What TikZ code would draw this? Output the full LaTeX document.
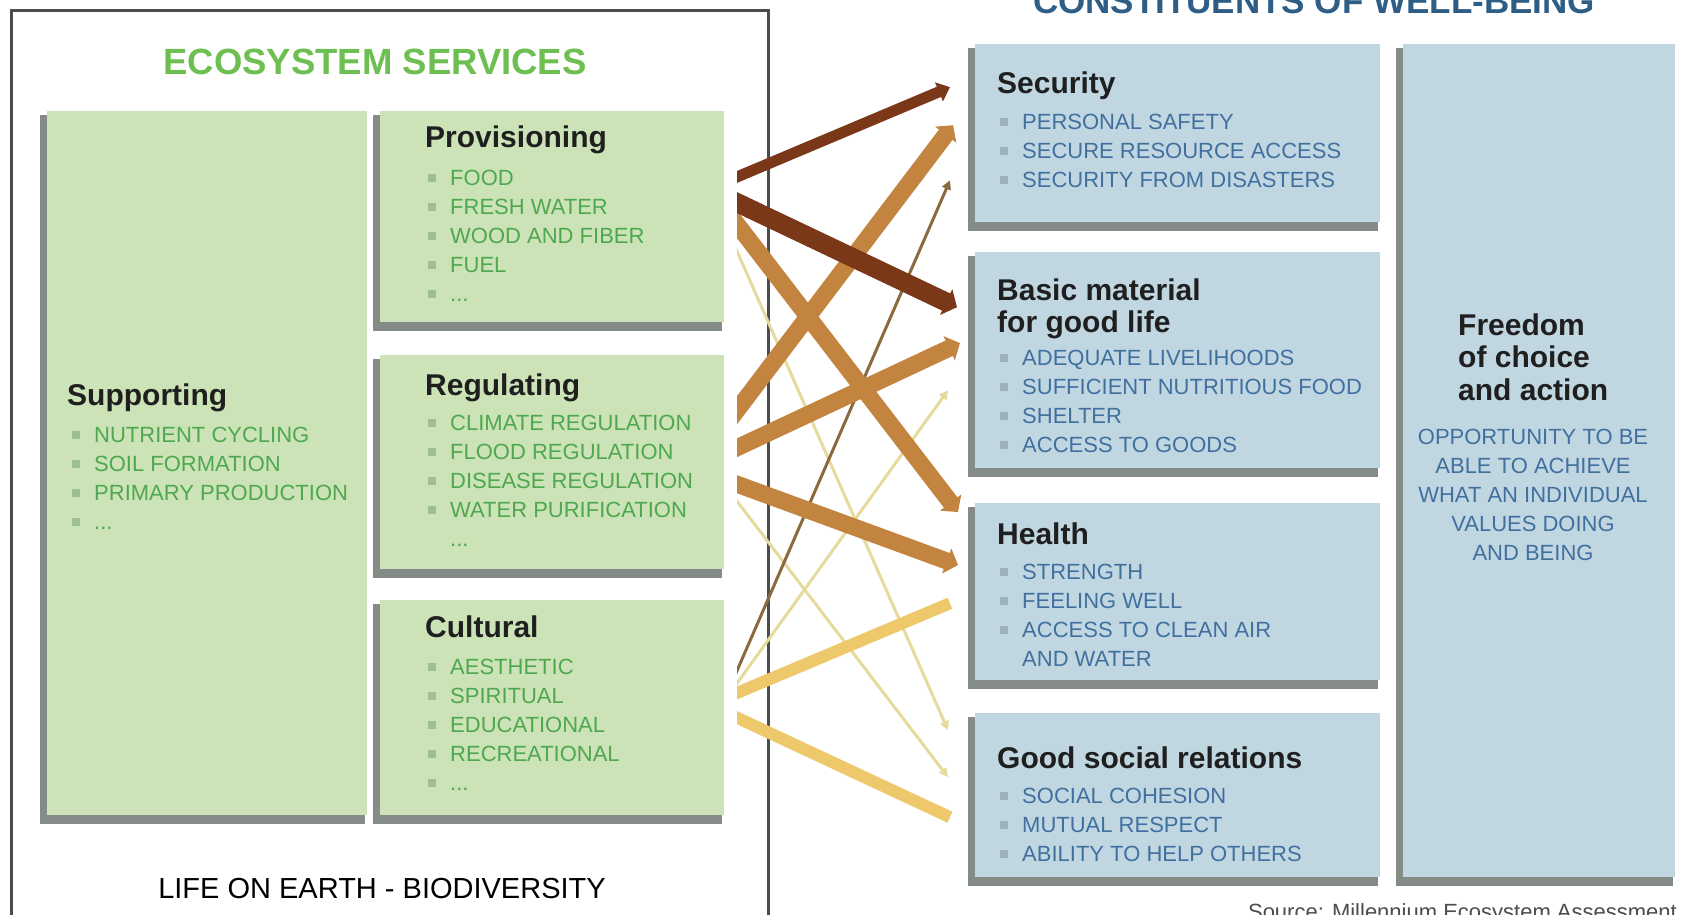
\documentclass[tikz,border=0pt]{standalone}
\usepackage{fontspec}
\setmainfont{Liberation Sans}
\usepackage{tikz}
\usetikzlibrary{positioning, arrows.meta, calc, backgrounds}
\usepackage{xcolor}

\definecolor{boxgreen}{HTML}{CBE3B7}
\definecolor{boxblue}{HTML}{C0D7E2}
\definecolor{txtgreen}{HTML}{4FA84F}
\definecolor{ttlgreen}{HTML}{6CBF50}
\definecolor{txtblue}{HTML}{41709F}
\definecolor{ttlblue}{HTML}{2E5E86}
\definecolor{bulgreen}{HTML}{9DBF92}
\definecolor{bulblue}{HTML}{9DB1BD}
\definecolor{darkbrown}{HTML}{7A3818}
\definecolor{midbrown}{HTML}{C2843F}
\definecolor{thinbrown}{HTML}{8C6A40}
\definecolor{paleyellow}{HTML}{E6DB9C}
\definecolor{warmyellow}{HTML}{EDC96C}
\definecolor{shadowgray}{HTML}{858C88}

\newcommand{\gsq}{\textcolor{bulgreen}{\rule[4pt]{8pt}{8pt}}\hspace{14pt}}
\newcommand{\bsq}{\textcolor{bulblue}{\rule[4pt]{8pt}{8pt}}\hspace{14pt}}

\begin{document}
\begin{tikzpicture}[
    x=1pt, y=-1pt,
    svcbox/.style={rectangle, fill=boxgreen, anchor=north west, inner sep=0pt},
    wellbox/.style={svcbox, fill=boxblue},
    heading/.style={anchor=base west, inner sep=0pt, text=black!88,
        font=\fontsize{30}{32.5}\selectfont\bfseries},
    svcitems/.style={anchor=north west, inner sep=0pt, align=left, text=txtgreen,
        font=\fontsize{22}{29}\selectfont},
    wellitems/.style={svcitems, text=txtblue},
    thinarrow/.style={line width=3pt, -{Triangle[length=9pt, width=9pt]}},
    widearrow/.style={line width=12pt},
    fatarrow/.style={line width=#1, -{Triangle[length=12pt, width=9pt 1]}}
]
    \path[use as bounding box, clip] (0,0) rectangle (1689,914);

    \draw[line width=3pt, draw=black!70] (11,10) rectangle (768,940);

    \node[font=\fontsize{36.5}{40}\selectfont\bfseries, text=ttlgreen, anchor=base, inner sep=0pt]
        (svctitle) at (375,74) {ECOSYSTEM SERVICES};
    \node[font=\fontsize{35}{40}\selectfont\bfseries, text=ttlblue, anchor=base, inner sep=0pt]
        (welltitle) at (1314,13) {CONSTITUENTS OF WELL-BEING};

    \node[svcbox, minimum width=320pt, minimum height=704pt] (supp) at (47,111) {};
    \node[svcbox, minimum width=344pt, minimum height=211pt] (prov) at (380,111) {};
    \node[svcbox, minimum width=344pt, minimum height=214pt] (regu) at (380,355) {};
    \node[svcbox, minimum width=344pt, minimum height=215pt] (cult) at (380,600) {};

    \node[wellbox, minimum width=405pt, minimum height=178pt] (secu) at (975,44) {};
    \node[wellbox, minimum width=405pt, minimum height=216pt] (basic) at (975,252) {};
    \node[wellbox, minimum width=405pt, minimum height=177pt] (health) at (975,503) {};
    \node[wellbox, minimum width=405pt, minimum height=164pt] (social) at (975,713) {};
    \node[wellbox, minimum width=272pt, minimum height=833pt] (freedom) at (1403,44) {};

    \begin{scope}[on background layer]
        \foreach \b in {supp,prov,regu,cult,secu,basic,health,social,freedom}
            \fill[shadowgray] ($(\b.north west)+(-7,4)$) rectangle ($(\b.south east)+(-2,9)$);
    \end{scope}

    \node[heading] (supph) at (67,405) {Supporting};
    \node[svcitems] (suppi) at (72,427)
        {\gsq NUTRIENT CYCLING\\ \gsq SOIL FORMATION\\ \gsq PRIMARY PRODUCTION\\ \gsq ...};
    \node[heading] (provh) at (425,147) {Provisioning};
    \node[svcitems] (provi) at (428,170)
        {\gsq FOOD\\ \gsq FRESH WATER\\ \gsq WOOD AND FIBER\\ \gsq FUEL\\ \gsq ...};
    \node[heading] (reguh) at (425,395) {Regulating};
    \node[svcitems] (regui) at (428,415)
        {\gsq CLIMATE REGULATION\\ \gsq FLOOD REGULATION\\ \gsq DISEASE REGULATION\\
         \gsq WATER PURIFICATION\\ \hphantom{\gsq}...};
    \node[heading] (culth) at (425,637) {Cultural};
    \node[svcitems] (culti) at (428,659)
        {\gsq AESTHETIC\\ \gsq SPIRITUAL\\ \gsq EDUCATIONAL\\ \gsq RECREATIONAL\\ \gsq ...};

    \node[heading] (secuh) at (997,93) {Security};
    \node[wellitems] (secui) at (1000,114)
        {\bsq PERSONAL SAFETY\\ \bsq SECURE RESOURCE ACCESS\\ \bsq SECURITY FROM DISASTERS};
    \node[heading, anchor=north west, align=left] (basich) at (997,278.5)
        {Basic material\\for good life};
    \node[wellitems] (basici) at (1000,350)
        {\bsq ADEQUATE LIVELIHOODS\\ \bsq SUFFICIENT NUTRITIOUS FOOD\\ \bsq SHELTER\\
         \bsq ACCESS TO GOODS};
    \node[heading] (healthh) at (997,544) {Health};
    \node[wellitems] (healthi) at (1000,564)
        {\bsq STRENGTH\\ \bsq FEELING WELL\\ \bsq ACCESS TO CLEAN AIR\\ \hphantom{\bsq}AND WATER};
    \node[heading] (socialh) at (997,768) {Good social relations};
    \node[wellitems] (sociali) at (1000,788)
        {\bsq SOCIAL COHESION\\ \bsq MUTUAL RESPECT\\ \bsq ABILITY TO HELP OTHERS};
    \node[heading, anchor=north west, align=left] (freedomh) at (1458,313.5)
        {Freedom\\of choice\\and action};
    \node[wellitems, anchor=north, align=center] (freedomi) at (1533,429)
        {OPPORTUNITY TO BE\\ABLE TO ACHIEVE\\WHAT AN INDIVIDUAL\\VALUES DOING\\AND BEING};

    \node[font=\fontsize{29}{32}\selectfont, anchor=base, inner sep=0pt] (life) at (382,898)
        {LIFE ON EARTH - BIODIVERSITY};
    \node[font=\fontsize{22}{26}\selectfont, text=black!70, anchor=base east, inner sep=0pt]
        (source) at (1677,919) {Source: Millennium Ecosystem Assessment};

    \begin{scope}
        \clip (737,0) rectangle (1689,914);
        \path[thinarrow]
            ($(prov.north east)!.528!(prov.south east)$) edge[draw=paleyellow]
                ($(social.north west)!.104!(social.south west)+(-27,0)$)
            ($(regu.north east)!.605!(regu.south east)$) edge[draw=paleyellow]
                ($(social.north west)!.39!(social.south west)+(-27,0)$)
            ($(cult.north east)!.463!(cult.south east)$) edge[draw=thinbrown]
                ($(secu.north west)!.764!(secu.south west)+(-25,0)$)
            ($(cult.north east)!.468!(cult.south east)$) edge[draw=paleyellow]
                ($(basic.north west)!.639!(basic.south west)+(-27,0)$);
        \path[widearrow]
            ($(cult.north east)!.456!(cult.south east)$) edge[draw=warmyellow]
                ($(health.north west)!.565!(health.south west)+(-25,0)$)
            ($(cult.north east)!.519!(cult.south east)$) edge[draw=warmyellow]
                ($(social.north west)!.634!(social.south west)+(-25,0)$);
        \path[fatarrow=17pt]
            ($(prov.north east)!.458!(prov.south east)$) edge[draw=midbrown]
                ($(health.north west)!.051!(health.south west)+(-17,0)$)
            ($(regu.north east)!.335!(regu.south east)$) edge[draw=midbrown]
                ($(secu.north west)!.455!(secu.south west)+(-22,0)$)
            ($(regu.north east)!.46!(regu.south east)$) edge[draw=midbrown]
                ($(basic.north west)!.421!(basic.south west)+(-15,0)$)
            ($(regu.north east)!.581!(regu.south east)$) edge[draw=midbrown]
                ($(health.north west)!.35!(health.south west)+(-17,0)$);
        \path[fatarrow=11pt]
            ($(prov.north east)!.337!(prov.south east)$) edge[draw=darkbrown]
                ($(secu.north west)!.242!(secu.south west)+(-25,0)$);
        \path[fatarrow=19pt]
            ($(prov.north east)!.405!(prov.south east)$) edge[draw=darkbrown]
                ($(basic.north west)!.255!(basic.south west)+(-18,0)$);
    \end{scope}
\end{tikzpicture}
\end{document}
